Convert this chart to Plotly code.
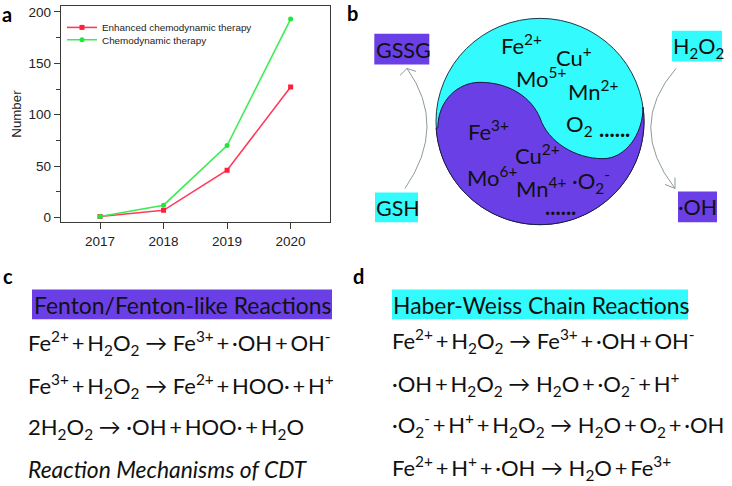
import numpy as np
import plotly.graph_objects as go

years = [2017, 2018, 2019, 2020]
enhanced = [1, 7, 46, 127]
chemodynamic = [1, 12, 70, 193]
series_names = ["Enhanced chemodynamic therapy", "Chemodynamic therapy"]

panel_letters = ["a", "b", "c", "d"]
ions_text = ["Fe<sup>2+</sup>", "Cu<sup>+</sup>", "Mo<sup>5+</sup>", "Mn<sup>2+</sup>", "O<sub>2</sub>", "<b>......</b>",
             "Fe<sup>3+</sup>", "Cu<sup>2+</sup>", "Mo<sup>6+</sup>", "Mn<sup>4+</sup>", "·O<sub>2</sub><sup>-</sup>", "<b>......</b>"]
box_text = ["GSSG", "H<sub>2</sub>O<sub>2</sub>", "GSH", "·OH"]
fenton_title = "Fenton/Fenton-like Reactions"
fenton_lines = ["Fe<sup>2+</sup> + H<sub>2</sub>O<sub>2</sub> → Fe<sup>3+</sup> + ·OH + OH<sup>-</sup>",
                "Fe<sup>3+</sup> + H<sub>2</sub>O<sub>2</sub> → Fe<sup>2+</sup> + HOO· + H<sup>+</sup>",
                "2H<sub>2</sub>O<sub>2</sub> → ·OH + HOO· + H<sub>2</sub>O"]
fenton_caption = "<i>Reaction Mechanisms of CDT</i>"
haber_title = "Haber-Weiss Chain Reactions"
haber_lines = ["Fe<sup>2+</sup> + H<sub>2</sub>O<sub>2</sub> → Fe<sup>3+</sup> + ·OH + OH<sup>-</sup>",
               "·OH + H<sub>2</sub>O<sub>2</sub> → H<sub>2</sub>O + ·O<sub>2</sub><sup>-</sup> + H<sup>+</sup>",
               "·O<sub>2</sub><sup>-</sup> + H<sup>+</sup> + H<sub>2</sub>O<sub>2</sub> → H<sub>2</sub>O + O<sub>2</sub> + ·OH",
               "Fe<sup>2+</sup> + H<sup>+</sup> + ·OH → H<sub>2</sub>O + Fe<sup>3+</sup>"]

W, H = 732, 486
PURPLE = "#6A3FE6"
CYAN = "#33FBFD"
INK = "#111111"
GREY = "#8C9A9C"

fig = go.Figure()
fig.add_trace(go.Scatter(x=years, y=enhanced, name=series_names[0], mode="lines+markers", legend="legend", showlegend=True,
                         line=dict(color="#FF3B5C", width=1.6), marker=dict(symbol="square", size=5, color="#FF1F3D")))
fig.add_trace(go.Scatter(x=years, y=chemodynamic, name=series_names[1], mode="lines+markers", legend="legend2", showlegend=True,
                         line=dict(color="#3DEB55", width=1.6), marker=dict(symbol="circle", size=5, color="#22E63C")))

shapes = []


def rect(x0, y0, x1, y1, color):
    shapes.append(dict(type="rect", xref="x2", yref="y2", x0=x0, y0=y0, x1=x1, y1=y1,
                       fillcolor=color, line=dict(width=0), layer="above"))


def curve(path):
    shapes.append(dict(type="path", xref="x2", yref="y2", path=path, line=dict(color=GREY, width=1), layer="above"))


def label(x, y, text, size=22):
    fig.add_annotation(xref="x2", yref="y2", x=x, y=y, text=text, showarrow=False, xanchor="left", yanchor="middle",
                       font=dict(family="Lato", size=size, color=INK), borderpad=0)


def tight(text):
    # the reference sets its equations with narrow gaps round the plus signs
    return text.replace(" + ", "\u200a\u200a+\u200a\u200a")


# panel b: yin-yang
cx, cy, r = 540, 121.5, 104
shapes.append(dict(type="circle", xref="x2", yref="y2", x0=cx - r, x1=cx + r, y0=cy - r, y1=cy + r,
                   fillcolor=CYAN, line=dict(color="#1F3A4A", width=1), layer="above"))
arc_angles = np.radians(np.linspace(-8, 176.4, 90))
arc = " ".join(f"L{cx + r * np.cos(a):.1f},{cy + r * np.sin(a):.1f}" for a in arc_angles)
s_curve = ("M437.8,128 C438,100 458,82 480,82 C510,82 532,98 540,118 "
           "C548,142 575,159 603,159 C625,159 643,135 643,107 ")
shapes.append(dict(type="path", xref="x2", yref="y2", path=s_curve + arc + " Z",
                   fillcolor=PURPLE, line=dict(color="#1A1A40", width=1), layer="above"))

# boxes and arrows around the circle
rect(374.3, 33, 429.3, 64, PURPLE)
rect(672, 30, 722, 61, CYAN)
rect(375, 193, 418, 223, CYAN)
rect(678, 192, 717, 223, PURPLE)
curve("M405,189 Q 448,126 407,68")
curve("M400,75 L407,68 L416,71")
curve("M676,68 Q 626,126 675,189")
curve("M665,185 L675,189 L675,178")

# header bars
rect(32, 291, 332, 321, PURPLE)
rect(392, 291, 688, 321, CYAN)

for (x, y), t in zip([(1, 13), (346, 12), (2, 277), (352, 277)], panel_letters):
    fig.add_annotation(xref="x2", yref="y2", x=x, y=y, text=f"<b>{t}</b>", showarrow=False, xanchor="left",
                       yanchor="middle", font=dict(family="Lato", size=20, color="#000000"), borderpad=0)

ion_pos = [(500, 43.5), (555, 55.5), (515, 77.5), (567, 90.5), (565, 125.5), (598, 129),
           (467, 130.5), (514, 154.5), (466, 176.5), (515, 188.5), (571, 181.5), (544, 207)]
for (x, y), t in zip(ion_pos, ions_text):
    label(x, y, t)

box_pos = [(375, 49), (672, 47), (375, 209), (677, 208)]
for (x, y), t in zip(box_pos, box_text):
    label(x, y, t, size=21.5)

label(33, 306.5, fenton_title, size=22.9)
label(392, 306.5, haber_title, size=22.9)
for y, t in zip([345, 388, 431], fenton_lines):
    label(27, y, tight(t), size=22)
label(27, 472, fenton_caption, size=22.9)
for y, t in zip([343, 386, 428, 471], haber_lines):
    label(391, y, tight(t), size=22)

axis_line = dict(showline=True, linecolor="#3A3A3A", linewidth=1.4, mirror=True, showgrid=False, zeroline=False,
                 ticks="outside", tickcolor="#3A3A3A", tickwidth=1.2, ticklen=6,
                 tickfont=dict(family="Liberation Sans", size=13.5, color="#222222"))
legend_style = dict(xanchor="left", yanchor="top", bgcolor="rgba(0,0,0,0)", borderwidth=0,
                    font=dict(family="Liberation Sans", size=9.9, color="#222222"), itemwidth=30)

fig.update_layout(
    width=W, height=H, margin=dict(l=0, r=0, t=0, b=0), autosize=False,
    paper_bgcolor="white", plot_bgcolor="rgba(0,0,0,0)", shapes=shapes,
    xaxis=dict(domain=[61 / W, 330 / W], range=[2016.386, 2020.62], tickvals=years, anchor="y", **axis_line),
    yaxis=dict(domain=[1 - 223 / H, 1 - 5 / H], range=[-4.5, 205.8], dtick=50, anchor="x",
               minor=dict(dtick=25, ticks="outside", ticklen=4, tickcolor="#3A3A3A", tickwidth=1.2),
               title=dict(text="Number", font=dict(family="Liberation Sans", size=13.3, color="#222222"), standoff=3),
               **axis_line),
    xaxis2=dict(domain=[0, 1], range=[0, W], visible=False, anchor="y2"),
    yaxis2=dict(domain=[0, 1], range=[H, 0], visible=False, anchor="x2"),
    legend=dict(x=62 / W, y=1 - 12 / H, **legend_style),
    legend2=dict(x=62 / W, y=1 - 24.5 / H, **legend_style),
)

fig.write_html("out.html", post_script="document.body.style.margin='0';", config=dict(displayModeBar=False))
